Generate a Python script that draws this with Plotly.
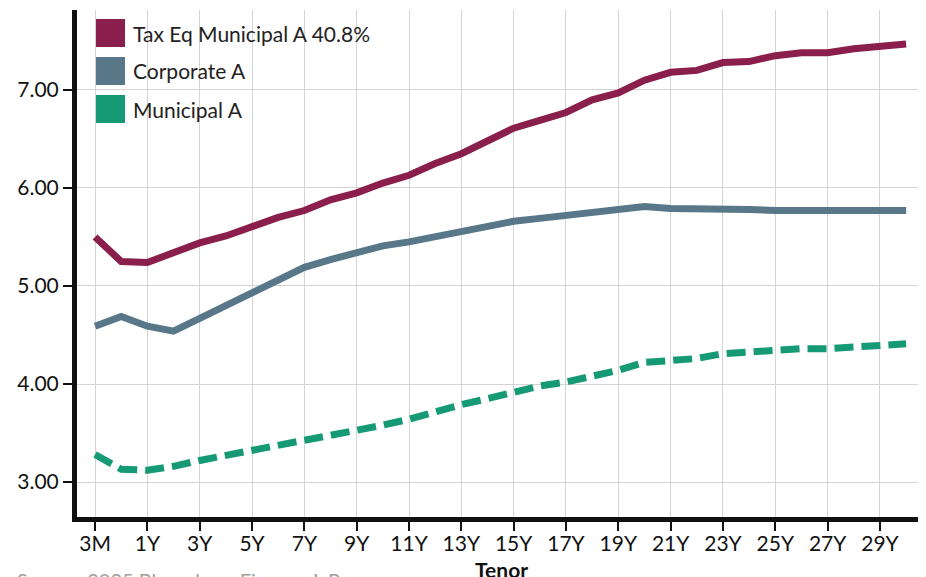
import plotly.graph_objects as go

tenors = ["3M", "6M"] + [f"{i}Y" for i in range(1, 31)]
tick_labels = ["3M", "1Y", "3Y", "5Y", "7Y", "9Y", "11Y", "13Y", "15Y", "17Y",
               "19Y", "21Y", "23Y", "25Y", "27Y", "29Y"]

tax_eq_muni = [5.50, 5.25, 5.24, 5.34, 5.44, 5.51, 5.60, 5.70, 5.77, 5.88,
               5.95, 6.05, 6.13, 6.25, 6.35, 6.49, 6.61, 6.69, 6.77, 6.90,
               6.97, 7.10, 7.18, 7.20, 7.28, 7.29, 7.35, 7.38, 7.38, 7.42,
               7.44, 7.47]
corporate = [4.59, 4.69, 4.59, 4.54, 4.67, 4.80, 4.93, 5.07, 5.19, 5.27,
             5.34, 5.41, 5.45, 5.50, 5.55, 5.60, 5.66, 5.69, 5.72, 5.76,
             5.78, 5.81, 5.79, 5.79, 5.78, 5.78, 5.77, 5.77, 5.77, 5.77,
             5.77, 5.77]
municipal = [3.28, 3.13, 3.12, 3.16, 3.22, 3.27, 3.33, 3.38, 3.43, 3.48,
             3.53, 3.58, 3.64, 3.72, 3.79, 3.85, 3.92, 3.98, 4.02, 4.08,
             4.14, 4.22, 4.24, 4.26, 4.31, 4.33, 4.35, 4.36, 4.36, 4.38,
             4.39, 4.41]

series_names = ["Tax Eq Municipal A 40.8%", "Corporate A", "Municipal A"]
colors = ["#8A1E4C", "#587789", "#159A75"]

x_idx = list(range(len(tenors)))
tick_idx = [tenors.index(t) for t in tick_labels]

fig = go.Figure()
fig.add_trace(go.Scatter(x=x_idx, y=tax_eq_muni, mode="lines", name=series_names[0],
                         line=dict(color=colors[0], width=7)))
fig.add_trace(go.Scatter(x=x_idx, y=corporate, mode="lines", name=series_names[1],
                         line=dict(color=colors[1], width=7)))
fig.add_trace(go.Scatter(x=x_idx, y=municipal, mode="lines", name=series_names[2],
                         line=dict(color=colors[2], width=7, dash="19px,8px")))

# page body has an 8px margin; size the figure to fit the window
OFF = 8
W, H = 926 - OFF, 577 - OFF
PL, PR, PT, PB = 77, 926, 10, 517   # plot area in page pixels
L, R, T, B = PL - OFF, 0, PT - OFF, H - (PB - OFF)
pw, ph = PR - PL, PB - PT

def px_x(px):
    return (px - PL) / pw

def px_y(py):
    return (PB - py) / ph

shapes = []
annotations = []
box_tops = [19, 57, 95]
for i, name in enumerate(series_names):
    top = box_tops[i]
    shapes.append(dict(type="rect", xref="paper", yref="paper",
                       x0=px_x(96), x1=px_x(125), y0=px_y(top + 28), y1=px_y(top),
                       fillcolor=colors[i], line=dict(width=0), layer="above"))
    annotations.append(dict(xref="paper", yref="paper", x=px_x(131), y=px_y(top + 14),
                            xanchor="left", yanchor="middle", text=name, showarrow=False,
                            font=dict(family="Lato", size=21, color="#222222")))

annotations.append(dict(xref="paper", yref="paper", x=0.5, y=px_y(555),
                        xanchor="center", yanchor="top", text="<b>Tenor</b>", showarrow=False,
                        font=dict(family="Lato", size=21, color="#111111")))
annotations.append(dict(xref="paper", yref="paper", x=px_x(15), y=px_y(566),
                        xanchor="left", yanchor="top", text="Source: 2025 Bloomberg Finance L.P.",
                        showarrow=False, font=dict(family="Lato", size=20, color="#a0a0a0")))

fig.update_layout(
    width=W, height=H,
    margin=dict(l=L, r=R, t=T, b=B, pad=0),
    paper_bgcolor="white", plot_bgcolor="white",
    showlegend=False,
    font=dict(family="Lato", size=21, color="#111111"),
    shapes=shapes, annotations=annotations,
    xaxis=dict(range=[-0.69, 31.76], tickmode="array", tickvals=tick_idx, ticktext=tick_labels,
               showgrid=True, gridcolor="#d4d4d4", gridwidth=1,
               showline=True, linecolor="#111111", linewidth=5,
               ticks="outside", ticklen=9, tickwidth=2, tickcolor="#111111",
               ticklabelstandoff=-5,
               tickfont=dict(family="Lato", size=21, color="#111111"), zeroline=False),
    yaxis=dict(range=[2.643, 7.816], tickvals=[3, 4, 5, 6, 7], ticktext=["3.00", "4.00", "5.00", "6.00", "7.00"],
               showgrid=True, gridcolor="#d4d4d4", gridwidth=1,
               showline=True, linecolor="#111111", linewidth=5,
               ticks="outside", ticklen=9, tickwidth=2, tickcolor="#111111",
               tickfont=dict(family="Lato", size=21, color="#111111"), zeroline=False),
)

fig.write_html("out.html")
